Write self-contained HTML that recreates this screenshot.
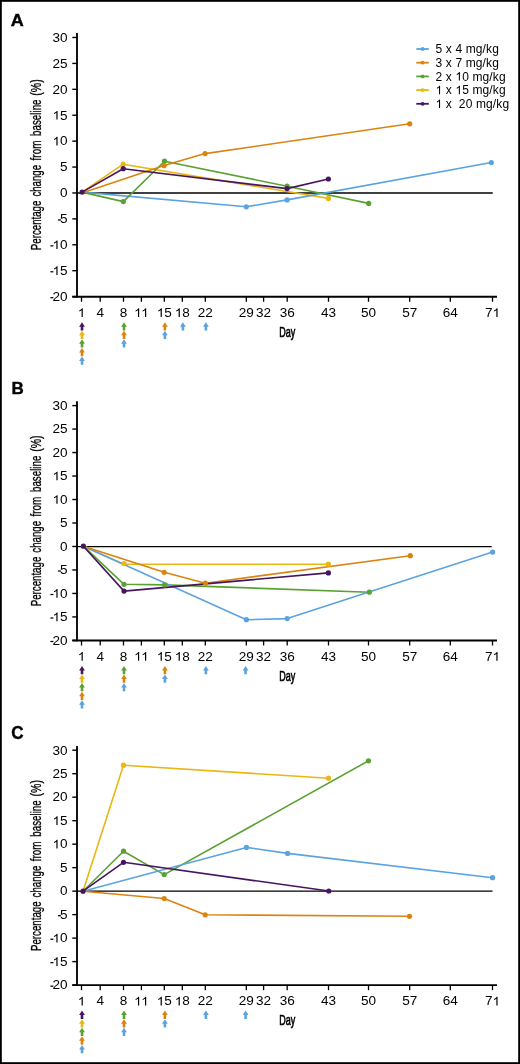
<!DOCTYPE html>
<html><head><meta charset="utf-8"><style>
html,body{margin:0;padding:0;background:#fff;}
body{width:520px;height:1064px;overflow:hidden;font-family:"Liberation Sans",sans-serif;}
svg{display:block;will-change:transform;}
svg text{font-family:"Liberation Sans",sans-serif;fill:#000;}
</style></head><body>
<svg width="520" height="1064" viewBox="0 0 520 1064">
<rect x="0" y="0" width="520" height="1064" fill="#fff"/>
<text transform="translate(10.8,25.8) scale(1.06,1)" font-weight="bold" font-size="17" stroke="#000" stroke-width="0.4">A</text>
<line x1="77.0" y1="33" x2="77.0" y2="297.55" stroke="#000" stroke-width="1.85"/>
<line x1="72.3" y1="37.50" x2="77.0" y2="37.50" stroke="#000" stroke-width="1.4"/>
<g transform="translate(67.600,41.800) scale(1.13,1)"><text x="-13.348 -6.674" y="0" font-size="12">30</text></g>
<line x1="72.3" y1="63.41" x2="77.0" y2="63.41" stroke="#000" stroke-width="1.4"/>
<g transform="translate(67.600,67.710) scale(1.13,1)"><text x="-13.348 -6.674" y="0" font-size="12">25</text></g>
<line x1="72.3" y1="89.32" x2="77.0" y2="89.32" stroke="#000" stroke-width="1.4"/>
<g transform="translate(67.600,93.620) scale(1.13,1)"><text x="-13.348 -6.674" y="0" font-size="12">20</text></g>
<line x1="72.3" y1="115.23" x2="77.0" y2="115.23" stroke="#000" stroke-width="1.4"/>
<g transform="translate(67.600,119.530) scale(1.13,1)"><text x="-6.674" y="0" font-size="12">5</text><path transform="translate(-13.348,0) scale(0.005859,-0.005859)" d="M763 0L583 0L583 1147Q518 1085 412 1023Q306 961 222 930L222 1104Q373 1175 486 1276Q599 1377 646 1472L763 1472Z"/></g>
<line x1="72.3" y1="141.14" x2="77.0" y2="141.14" stroke="#000" stroke-width="1.4"/>
<g transform="translate(67.600,145.440) scale(1.13,1)"><text x="-6.674" y="0" font-size="12">0</text><path transform="translate(-13.348,0) scale(0.005859,-0.005859)" d="M763 0L583 0L583 1147Q518 1085 412 1023Q306 961 222 930L222 1104Q373 1175 486 1276Q599 1377 646 1472L763 1472Z"/></g>
<line x1="72.3" y1="167.05" x2="77.0" y2="167.05" stroke="#000" stroke-width="1.4"/>
<g transform="translate(67.600,171.350) scale(1.13,1)"><text x="-6.674" y="0" font-size="12">5</text></g>
<line x1="72.3" y1="192.96" x2="77.0" y2="192.96" stroke="#000" stroke-width="1.4"/>
<g transform="translate(67.600,197.260) scale(1.13,1)"><text x="-6.674" y="0" font-size="12">0</text></g>
<line x1="72.3" y1="218.87" x2="77.0" y2="218.87" stroke="#000" stroke-width="1.4"/>
<g transform="translate(67.600,223.170) scale(1.13,1)"><text x="-6.674" y="0" font-size="12">5</text><path transform="translate(-10.670,0) scale(0.005859,-0.005859)" d="M362 444H815V656H362Z"/></g>
<line x1="72.3" y1="244.78" x2="77.0" y2="244.78" stroke="#000" stroke-width="1.4"/>
<g transform="translate(67.600,249.080) scale(1.13,1)"><text x="-6.674" y="0" font-size="12">0</text><path transform="translate(-17.344,0) scale(0.005859,-0.005859)" d="M362 444H815V656H362Z"/><path transform="translate(-13.348,0) scale(0.005859,-0.005859)" d="M763 0L583 0L583 1147Q518 1085 412 1023Q306 961 222 930L222 1104Q373 1175 486 1276Q599 1377 646 1472L763 1472Z"/></g>
<line x1="72.3" y1="270.69" x2="77.0" y2="270.69" stroke="#000" stroke-width="1.4"/>
<g transform="translate(67.600,274.990) scale(1.13,1)"><text x="-6.674" y="0" font-size="12">5</text><path transform="translate(-17.344,0) scale(0.005859,-0.005859)" d="M362 444H815V656H362Z"/><path transform="translate(-13.348,0) scale(0.005859,-0.005859)" d="M763 0L583 0L583 1147Q518 1085 412 1023Q306 961 222 930L222 1104Q373 1175 486 1276Q599 1377 646 1472L763 1472Z"/></g>
<line x1="72.3" y1="296.60" x2="77.0" y2="296.60" stroke="#000" stroke-width="1.4"/>
<g transform="translate(67.600,300.900) scale(1.13,1)"><text x="-13.348 -6.674" y="0" font-size="12">20</text><path transform="translate(-17.344,0) scale(0.005859,-0.005859)" d="M362 444H815V656H362Z"/></g>
<line x1="72.3" y1="296.75" x2="497.0" y2="296.75" stroke="#000" stroke-width="1.8"/>
<line x1="81.5" y1="296.75" x2="81.5" y2="301.75" stroke="#000" stroke-width="1.3"/>
<g transform="translate(81.500,316.950) scale(1.13,1)"><path transform="translate(-3.337,0) scale(0.005859,-0.005859)" d="M763 0L583 0L583 1147Q518 1085 412 1023Q306 961 222 930L222 1104Q373 1175 486 1276Q599 1377 646 1472L763 1472Z"/></g>
<line x1="100.2" y1="296.75" x2="100.2" y2="301.75" stroke="#000" stroke-width="1.3"/>
<g transform="translate(100.200,316.950) scale(1.13,1)"><text x="-3.337" y="0" font-size="12">4</text></g>
<line x1="123.5" y1="296.75" x2="123.5" y2="301.75" stroke="#000" stroke-width="1.3"/>
<g transform="translate(123.500,316.950) scale(1.13,1)"><text x="-3.337" y="0" font-size="12">8</text></g>
<line x1="141.4" y1="296.75" x2="141.4" y2="301.75" stroke="#000" stroke-width="1.3"/>
<g transform="translate(141.400,316.950) scale(1.13,1)"><path transform="translate(-6.451,0) scale(0.005859,-0.005859)" d="M763 0L583 0L583 1147Q518 1085 412 1023Q306 961 222 930L222 1104Q373 1175 486 1276Q599 1377 646 1472L763 1472Z"/><path transform="translate(-0.223,0) scale(0.005859,-0.005859)" d="M763 0L583 0L583 1147Q518 1085 412 1023Q306 961 222 930L222 1104Q373 1175 486 1276Q599 1377 646 1472L763 1472Z"/></g>
<line x1="164.3" y1="296.75" x2="164.3" y2="301.75" stroke="#000" stroke-width="1.3"/>
<g transform="translate(164.300,316.950) scale(1.13,1)"><text x="0.000" y="0" font-size="12">5</text><path transform="translate(-6.674,0) scale(0.005859,-0.005859)" d="M763 0L583 0L583 1147Q518 1085 412 1023Q306 961 222 930L222 1104Q373 1175 486 1276Q599 1377 646 1472L763 1472Z"/></g>
<line x1="182.3" y1="296.75" x2="182.3" y2="301.75" stroke="#000" stroke-width="1.3"/>
<g transform="translate(182.300,316.950) scale(1.13,1)"><text x="0.000" y="0" font-size="12">8</text><path transform="translate(-6.674,0) scale(0.005859,-0.005859)" d="M763 0L583 0L583 1147Q518 1085 412 1023Q306 961 222 930L222 1104Q373 1175 486 1276Q599 1377 646 1472L763 1472Z"/></g>
<line x1="205.3" y1="296.75" x2="205.3" y2="301.75" stroke="#000" stroke-width="1.3"/>
<g transform="translate(205.300,316.950) scale(1.13,1)"><text x="-6.674 0.000" y="0" font-size="12">22</text></g>
<line x1="246.3" y1="296.75" x2="246.3" y2="301.75" stroke="#000" stroke-width="1.3"/>
<g transform="translate(246.300,316.950) scale(1.13,1)"><text x="-6.674 0.000" y="0" font-size="12">29</text></g>
<line x1="263.6" y1="296.75" x2="263.6" y2="301.75" stroke="#000" stroke-width="1.3"/>
<g transform="translate(263.600,316.950) scale(1.13,1)"><text x="-6.674 0.000" y="0" font-size="12">32</text></g>
<line x1="287.2" y1="296.75" x2="287.2" y2="301.75" stroke="#000" stroke-width="1.3"/>
<g transform="translate(287.200,316.950) scale(1.13,1)"><text x="-6.674 0.000" y="0" font-size="12">36</text></g>
<line x1="328.5" y1="296.75" x2="328.5" y2="301.75" stroke="#000" stroke-width="1.3"/>
<g transform="translate(328.500,316.950) scale(1.13,1)"><text x="-6.674 0.000" y="0" font-size="12">43</text></g>
<line x1="368.5" y1="296.75" x2="368.5" y2="301.75" stroke="#000" stroke-width="1.3"/>
<g transform="translate(368.500,316.950) scale(1.13,1)"><text x="-6.674 0.000" y="0" font-size="12">50</text></g>
<line x1="409.7" y1="296.75" x2="409.7" y2="301.75" stroke="#000" stroke-width="1.3"/>
<g transform="translate(409.700,316.950) scale(1.13,1)"><text x="-6.674 0.000" y="0" font-size="12">57</text></g>
<line x1="450.3" y1="296.75" x2="450.3" y2="301.75" stroke="#000" stroke-width="1.3"/>
<g transform="translate(450.300,316.950) scale(1.13,1)"><text x="-6.674 0.000" y="0" font-size="12">64</text></g>
<line x1="492.5" y1="296.75" x2="492.5" y2="301.75" stroke="#000" stroke-width="1.3"/>
<g transform="translate(492.500,316.950) scale(1.13,1)"><text x="-6.674" y="0" font-size="12">7</text><path transform="translate(0.000,0) scale(0.005859,-0.005859)" d="M763 0L583 0L583 1147Q518 1085 412 1023Q306 961 222 930L222 1104Q373 1175 486 1276Q599 1377 646 1472L763 1472Z"/></g>
<text x="279.2" y="336.95" font-family="Liberation Sans" font-size="14" stroke="#000" stroke-width="0.65" textLength="16" lengthAdjust="spacingAndGlyphs">Day</text>
<text transform="translate(40.7,250.20) rotate(-90)" font-size="14.2" stroke="#000" stroke-width="0.3" textLength="49.60" lengthAdjust="spacingAndGlyphs">Percentage</text>
<text transform="translate(40.7,196.60) rotate(-90)" font-size="14.2" stroke="#000" stroke-width="0.3" textLength="31.70" lengthAdjust="spacingAndGlyphs">change</text>
<text transform="translate(40.7,160.40) rotate(-90)" font-size="14.2" stroke="#000" stroke-width="0.3" textLength="19.80" lengthAdjust="spacingAndGlyphs">from</text>
<text transform="translate(40.7,135.90) rotate(-90)" font-size="14.2" stroke="#000" stroke-width="0.3" textLength="36.40" lengthAdjust="spacingAndGlyphs">baseline</text>
<text transform="translate(40.7,95.70) rotate(-90)" font-size="14.2" stroke="#000" stroke-width="0.3" textLength="16.40" lengthAdjust="spacingAndGlyphs">(%)</text>
<line x1="77.0" y1="193" x2="492.7" y2="193" stroke="#000" stroke-width="1.35"/>
<polyline points="82.1,192.1 246.3,206.8 287.1,199.9" fill="none" stroke="#5ba3e0" stroke-width="1.6" stroke-linejoin="round"/>
<polyline points="82.1,192.1 123.2,164.2 328.4,198.4" fill="none" stroke="#e9b612" stroke-width="1.6" stroke-linejoin="round"/>
<polyline points="82.1,192.1 123.3,201.6 164.5,161.2 287.1,186.2 368.7,203.4" fill="none" stroke="#5aa132" stroke-width="1.6" stroke-linejoin="round"/>
<polyline points="82.1,192.9 164.1,165.6 205.1,153.6 409.7,123.8" fill="none" stroke="#da840f" stroke-width="1.6" stroke-linejoin="round"/>
<polyline points="82.1,192.1 123.2,168.7 287.1,188.6 328.4,179.0" fill="none" stroke="#461560" stroke-width="1.6" stroke-linejoin="round"/>
<polyline points="287.1,199.9 491.3,162.5" fill="none" stroke="#5ba3e0" stroke-width="1.6" stroke-linejoin="round"/>
<circle cx="246.3" cy="206.8" r="2.6" fill="#5ba3e0"/>
<circle cx="287.1" cy="199.9" r="2.6" fill="#5ba3e0"/>
<circle cx="491.3" cy="162.5" r="2.6" fill="#5ba3e0"/>
<circle cx="123.2" cy="164.2" r="2.6" fill="#e9b612"/>
<circle cx="328.4" cy="198.4" r="2.6" fill="#e9b612"/>
<circle cx="123.3" cy="201.6" r="2.6" fill="#5aa132"/>
<circle cx="164.5" cy="161.2" r="2.6" fill="#5aa132"/>
<circle cx="287.1" cy="186.2" r="2.6" fill="#5aa132"/>
<circle cx="368.7" cy="203.4" r="2.6" fill="#5aa132"/>
<circle cx="164.1" cy="165.6" r="2.6" fill="#da840f"/>
<circle cx="205.1" cy="153.6" r="2.6" fill="#da840f"/>
<circle cx="409.7" cy="123.8" r="2.6" fill="#da840f"/>
<circle cx="82.1" cy="192.1" r="2.6" fill="#461560"/>
<circle cx="123.2" cy="168.7" r="2.6" fill="#461560"/>
<circle cx="287.1" cy="188.6" r="2.6" fill="#461560"/>
<circle cx="328.4" cy="179.0" r="2.6" fill="#461560"/>
<path d="M82.00 322.15 L84.90 326.65 L83.30 326.65 L83.30 330.45 L80.70 330.45 L80.70 326.65 L79.10 326.65 Z" fill="#461560"/>
<path d="M82.00 330.73 L84.90 335.23 L83.30 335.23 L83.30 339.03 L80.70 339.03 L80.70 335.23 L79.10 335.23 Z" fill="#e9b612"/>
<path d="M82.00 339.31 L84.90 343.81 L83.30 343.81 L83.30 347.61 L80.70 347.61 L80.70 343.81 L79.10 343.81 Z" fill="#5aa132"/>
<path d="M82.00 347.89 L84.90 352.39 L83.30 352.39 L83.30 356.19 L80.70 356.19 L80.70 352.39 L79.10 352.39 Z" fill="#da840f"/>
<path d="M82.00 356.47 L84.90 360.97 L83.30 360.97 L83.30 364.77 L80.70 364.77 L80.70 360.97 L79.10 360.97 Z" fill="#5ba3e0"/>
<path d="M124.00 322.15 L126.90 326.65 L125.30 326.65 L125.30 330.45 L122.70 330.45 L122.70 326.65 L121.10 326.65 Z" fill="#5aa132"/>
<path d="M124.00 330.73 L126.90 335.23 L125.30 335.23 L125.30 339.03 L122.70 339.03 L122.70 335.23 L121.10 335.23 Z" fill="#da840f"/>
<path d="M124.00 339.31 L126.90 343.81 L125.30 343.81 L125.30 347.61 L122.70 347.61 L122.70 343.81 L121.10 343.81 Z" fill="#5ba3e0"/>
<path d="M164.90 322.15 L167.80 326.65 L166.20 326.65 L166.20 330.45 L163.60 330.45 L163.60 326.65 L162.00 326.65 Z" fill="#da840f"/>
<path d="M164.90 330.73 L167.80 335.23 L166.20 335.23 L166.20 339.03 L163.60 339.03 L163.60 335.23 L162.00 335.23 Z" fill="#5ba3e0"/>
<path d="M182.90 322.15 L185.80 326.65 L184.20 326.65 L184.20 330.45 L181.60 330.45 L181.60 326.65 L180.00 326.65 Z" fill="#5ba3e0"/>
<path d="M205.90 322.15 L208.80 326.65 L207.20 326.65 L207.20 330.45 L204.60 330.45 L204.60 326.65 L203.00 326.65 Z" fill="#5ba3e0"/>
<line x1="416.3" y1="49.00" x2="428.8" y2="49.00" stroke="#5ba3e0" stroke-width="1.8"/>
<circle cx="422.6" cy="49.00" r="1.9" fill="#5ba3e0"/>
<g transform="translate(435.600,53.200) scale(1.0,1)"><text x="0.000 10.248 19.822 30.070 40.186 46.980 50.434 56.554" y="0" font-size="12">5x4mg/kg</text></g>
<line x1="416.3" y1="62.70" x2="428.8" y2="62.70" stroke="#da840f" stroke-width="1.8"/>
<circle cx="422.6" cy="62.70" r="1.9" fill="#da840f"/>
<g transform="translate(435.600,66.900) scale(1.0,1)"><text x="0.000 10.248 19.822 30.070 40.186 46.980 50.434 56.554" y="0" font-size="12">3x7mg/kg</text></g>
<line x1="416.3" y1="76.40" x2="428.8" y2="76.40" stroke="#5aa132" stroke-width="1.8"/>
<circle cx="422.6" cy="76.40" r="1.9" fill="#5aa132"/>
<g transform="translate(435.600,80.600) scale(1.0,1)"><text x="0.000 10.248 26.616 36.863 46.980 53.773 57.227 63.347" y="0" font-size="12">2x0mg/kg</text><path transform="translate(19.822,0) scale(0.005859,-0.005859)" d="M763 0L583 0L583 1147Q518 1085 412 1023Q306 961 222 930L222 1104Q373 1175 486 1276Q599 1377 646 1472L763 1472Z"/></g>
<line x1="416.3" y1="90.10" x2="428.8" y2="90.10" stroke="#e9b612" stroke-width="1.8"/>
<circle cx="422.6" cy="90.10" r="1.9" fill="#e9b612"/>
<g transform="translate(435.600,94.300) scale(1.0,1)"><text x="10.248 26.616 36.863 46.980 53.773 57.227 63.347" y="0" font-size="12">x5mg/kg</text><path transform="translate(0.000,0) scale(0.005859,-0.005859)" d="M763 0L583 0L583 1147Q518 1085 412 1023Q306 961 222 930L222 1104Q373 1175 486 1276Q599 1377 646 1472L763 1472Z"/><path transform="translate(19.822,0) scale(0.005859,-0.005859)" d="M763 0L583 0L583 1147Q518 1085 412 1023Q306 961 222 930L222 1104Q373 1175 486 1276Q599 1377 646 1472L763 1472Z"/></g>
<line x1="416.3" y1="103.80" x2="428.8" y2="103.80" stroke="#461560" stroke-width="1.8"/>
<circle cx="422.6" cy="103.80" r="1.9" fill="#461560"/>
<g transform="translate(435.600,108.000) scale(1.0,1)"><text x="10.248 23.276 30.070 40.317 50.434 57.227 60.681 66.801" y="0" font-size="12">x20mg/kg</text><path transform="translate(0.000,0) scale(0.005859,-0.005859)" d="M763 0L583 0L583 1147Q518 1085 412 1023Q306 961 222 930L222 1104Q373 1175 486 1276Q599 1377 646 1472L763 1472Z"/></g>
<text transform="translate(11.5,394.3) scale(1.0,1)" font-weight="bold" font-size="17" stroke="#000" stroke-width="0.4">B</text>
<line x1="77.0" y1="401.2" x2="77.0" y2="641.3" stroke="#000" stroke-width="1.85"/>
<line x1="72.3" y1="405.60" x2="77.0" y2="405.60" stroke="#000" stroke-width="1.4"/>
<g transform="translate(67.600,409.900) scale(1.13,1)"><text x="-13.348 -6.674" y="0" font-size="12">30</text></g>
<line x1="72.3" y1="429.08" x2="77.0" y2="429.08" stroke="#000" stroke-width="1.4"/>
<g transform="translate(67.600,433.380) scale(1.13,1)"><text x="-13.348 -6.674" y="0" font-size="12">25</text></g>
<line x1="72.3" y1="452.56" x2="77.0" y2="452.56" stroke="#000" stroke-width="1.4"/>
<g transform="translate(67.600,456.860) scale(1.13,1)"><text x="-13.348 -6.674" y="0" font-size="12">20</text></g>
<line x1="72.3" y1="476.04" x2="77.0" y2="476.04" stroke="#000" stroke-width="1.4"/>
<g transform="translate(67.600,480.340) scale(1.13,1)"><text x="-6.674" y="0" font-size="12">5</text><path transform="translate(-13.348,0) scale(0.005859,-0.005859)" d="M763 0L583 0L583 1147Q518 1085 412 1023Q306 961 222 930L222 1104Q373 1175 486 1276Q599 1377 646 1472L763 1472Z"/></g>
<line x1="72.3" y1="499.52" x2="77.0" y2="499.52" stroke="#000" stroke-width="1.4"/>
<g transform="translate(67.600,503.820) scale(1.13,1)"><text x="-6.674" y="0" font-size="12">0</text><path transform="translate(-13.348,0) scale(0.005859,-0.005859)" d="M763 0L583 0L583 1147Q518 1085 412 1023Q306 961 222 930L222 1104Q373 1175 486 1276Q599 1377 646 1472L763 1472Z"/></g>
<line x1="72.3" y1="523.00" x2="77.0" y2="523.00" stroke="#000" stroke-width="1.4"/>
<g transform="translate(67.600,527.300) scale(1.13,1)"><text x="-6.674" y="0" font-size="12">5</text></g>
<line x1="72.3" y1="546.48" x2="77.0" y2="546.48" stroke="#000" stroke-width="1.4"/>
<g transform="translate(67.600,550.780) scale(1.13,1)"><text x="-6.674" y="0" font-size="12">0</text></g>
<line x1="72.3" y1="569.96" x2="77.0" y2="569.96" stroke="#000" stroke-width="1.4"/>
<g transform="translate(67.600,574.260) scale(1.13,1)"><text x="-6.674" y="0" font-size="12">5</text><path transform="translate(-10.670,0) scale(0.005859,-0.005859)" d="M362 444H815V656H362Z"/></g>
<line x1="72.3" y1="593.44" x2="77.0" y2="593.44" stroke="#000" stroke-width="1.4"/>
<g transform="translate(67.600,597.740) scale(1.13,1)"><text x="-6.674" y="0" font-size="12">0</text><path transform="translate(-17.344,0) scale(0.005859,-0.005859)" d="M362 444H815V656H362Z"/><path transform="translate(-13.348,0) scale(0.005859,-0.005859)" d="M763 0L583 0L583 1147Q518 1085 412 1023Q306 961 222 930L222 1104Q373 1175 486 1276Q599 1377 646 1472L763 1472Z"/></g>
<line x1="72.3" y1="616.92" x2="77.0" y2="616.92" stroke="#000" stroke-width="1.4"/>
<g transform="translate(67.600,621.220) scale(1.13,1)"><text x="-6.674" y="0" font-size="12">5</text><path transform="translate(-17.344,0) scale(0.005859,-0.005859)" d="M362 444H815V656H362Z"/><path transform="translate(-13.348,0) scale(0.005859,-0.005859)" d="M763 0L583 0L583 1147Q518 1085 412 1023Q306 961 222 930L222 1104Q373 1175 486 1276Q599 1377 646 1472L763 1472Z"/></g>
<line x1="72.3" y1="640.40" x2="77.0" y2="640.40" stroke="#000" stroke-width="1.4"/>
<g transform="translate(67.600,644.700) scale(1.13,1)"><text x="-13.348 -6.674" y="0" font-size="12">20</text><path transform="translate(-17.344,0) scale(0.005859,-0.005859)" d="M362 444H815V656H362Z"/></g>
<line x1="72.3" y1="640.5" x2="497.0" y2="640.5" stroke="#000" stroke-width="1.8"/>
<line x1="81.5" y1="640.5" x2="81.5" y2="645.50" stroke="#000" stroke-width="1.3"/>
<g transform="translate(81.500,660.700) scale(1.13,1)"><path transform="translate(-3.337,0) scale(0.005859,-0.005859)" d="M763 0L583 0L583 1147Q518 1085 412 1023Q306 961 222 930L222 1104Q373 1175 486 1276Q599 1377 646 1472L763 1472Z"/></g>
<line x1="100.2" y1="640.5" x2="100.2" y2="645.50" stroke="#000" stroke-width="1.3"/>
<g transform="translate(100.200,660.700) scale(1.13,1)"><text x="-3.337" y="0" font-size="12">4</text></g>
<line x1="123.5" y1="640.5" x2="123.5" y2="645.50" stroke="#000" stroke-width="1.3"/>
<g transform="translate(123.500,660.700) scale(1.13,1)"><text x="-3.337" y="0" font-size="12">8</text></g>
<line x1="141.4" y1="640.5" x2="141.4" y2="645.50" stroke="#000" stroke-width="1.3"/>
<g transform="translate(141.400,660.700) scale(1.13,1)"><path transform="translate(-6.451,0) scale(0.005859,-0.005859)" d="M763 0L583 0L583 1147Q518 1085 412 1023Q306 961 222 930L222 1104Q373 1175 486 1276Q599 1377 646 1472L763 1472Z"/><path transform="translate(-0.223,0) scale(0.005859,-0.005859)" d="M763 0L583 0L583 1147Q518 1085 412 1023Q306 961 222 930L222 1104Q373 1175 486 1276Q599 1377 646 1472L763 1472Z"/></g>
<line x1="164.3" y1="640.5" x2="164.3" y2="645.50" stroke="#000" stroke-width="1.3"/>
<g transform="translate(164.300,660.700) scale(1.13,1)"><text x="0.000" y="0" font-size="12">5</text><path transform="translate(-6.674,0) scale(0.005859,-0.005859)" d="M763 0L583 0L583 1147Q518 1085 412 1023Q306 961 222 930L222 1104Q373 1175 486 1276Q599 1377 646 1472L763 1472Z"/></g>
<line x1="182.3" y1="640.5" x2="182.3" y2="645.50" stroke="#000" stroke-width="1.3"/>
<g transform="translate(182.300,660.700) scale(1.13,1)"><text x="0.000" y="0" font-size="12">8</text><path transform="translate(-6.674,0) scale(0.005859,-0.005859)" d="M763 0L583 0L583 1147Q518 1085 412 1023Q306 961 222 930L222 1104Q373 1175 486 1276Q599 1377 646 1472L763 1472Z"/></g>
<line x1="205.3" y1="640.5" x2="205.3" y2="645.50" stroke="#000" stroke-width="1.3"/>
<g transform="translate(205.300,660.700) scale(1.13,1)"><text x="-6.674 0.000" y="0" font-size="12">22</text></g>
<line x1="246.3" y1="640.5" x2="246.3" y2="645.50" stroke="#000" stroke-width="1.3"/>
<g transform="translate(246.300,660.700) scale(1.13,1)"><text x="-6.674 0.000" y="0" font-size="12">29</text></g>
<line x1="263.6" y1="640.5" x2="263.6" y2="645.50" stroke="#000" stroke-width="1.3"/>
<g transform="translate(263.600,660.700) scale(1.13,1)"><text x="-6.674 0.000" y="0" font-size="12">32</text></g>
<line x1="287.2" y1="640.5" x2="287.2" y2="645.50" stroke="#000" stroke-width="1.3"/>
<g transform="translate(287.200,660.700) scale(1.13,1)"><text x="-6.674 0.000" y="0" font-size="12">36</text></g>
<line x1="328.5" y1="640.5" x2="328.5" y2="645.50" stroke="#000" stroke-width="1.3"/>
<g transform="translate(328.500,660.700) scale(1.13,1)"><text x="-6.674 0.000" y="0" font-size="12">43</text></g>
<line x1="368.5" y1="640.5" x2="368.5" y2="645.50" stroke="#000" stroke-width="1.3"/>
<g transform="translate(368.500,660.700) scale(1.13,1)"><text x="-6.674 0.000" y="0" font-size="12">50</text></g>
<line x1="409.7" y1="640.5" x2="409.7" y2="645.50" stroke="#000" stroke-width="1.3"/>
<g transform="translate(409.700,660.700) scale(1.13,1)"><text x="-6.674 0.000" y="0" font-size="12">57</text></g>
<line x1="450.3" y1="640.5" x2="450.3" y2="645.50" stroke="#000" stroke-width="1.3"/>
<g transform="translate(450.300,660.700) scale(1.13,1)"><text x="-6.674 0.000" y="0" font-size="12">64</text></g>
<line x1="492.5" y1="640.5" x2="492.5" y2="645.50" stroke="#000" stroke-width="1.3"/>
<g transform="translate(492.500,660.700) scale(1.13,1)"><text x="-6.674" y="0" font-size="12">7</text><path transform="translate(0.000,0) scale(0.005859,-0.005859)" d="M763 0L583 0L583 1147Q518 1085 412 1023Q306 961 222 930L222 1104Q373 1175 486 1276Q599 1377 646 1472L763 1472Z"/></g>
<text x="279.2" y="680.70" font-family="Liberation Sans" font-size="14" stroke="#000" stroke-width="0.65" textLength="16" lengthAdjust="spacingAndGlyphs">Day</text>
<text transform="translate(40.7,606.30) rotate(-90)" font-size="14.2" stroke="#000" stroke-width="0.3" textLength="49.60" lengthAdjust="spacingAndGlyphs">Percentage</text>
<text transform="translate(40.7,552.70) rotate(-90)" font-size="14.2" stroke="#000" stroke-width="0.3" textLength="31.70" lengthAdjust="spacingAndGlyphs">change</text>
<text transform="translate(40.7,516.50) rotate(-90)" font-size="14.2" stroke="#000" stroke-width="0.3" textLength="19.80" lengthAdjust="spacingAndGlyphs">from</text>
<text transform="translate(40.7,492.00) rotate(-90)" font-size="14.2" stroke="#000" stroke-width="0.3" textLength="36.40" lengthAdjust="spacingAndGlyphs">baseline</text>
<text transform="translate(40.7,451.80) rotate(-90)" font-size="14.2" stroke="#000" stroke-width="0.3" textLength="16.40" lengthAdjust="spacingAndGlyphs">(%)</text>
<line x1="77.0" y1="546.6" x2="491.7" y2="546.6" stroke="#000" stroke-width="1.35"/>
<polyline points="83.4,546.2 124.0,564.2 328.4,564.2" fill="none" stroke="#e9b612" stroke-width="1.6" stroke-linejoin="round"/>
<polyline points="83.4,546.2 124.0,584.3 164.6,584.9 369.3,592.2" fill="none" stroke="#5aa132" stroke-width="1.6" stroke-linejoin="round"/>
<polyline points="83.4,546.2 246.4,619.7 287.2,618.6 492.6,552.1" fill="none" stroke="#5ba3e0" stroke-width="1.6" stroke-linejoin="round"/>
<polyline points="83.4,546.2 164.2,572.3 205.4,583.2 410.3,555.7" fill="none" stroke="#da840f" stroke-width="1.6" stroke-linejoin="round"/>
<polyline points="83.4,546.2 124.0,591.1 328.4,572.9" fill="none" stroke="#461560" stroke-width="1.6" stroke-linejoin="round"/>
<circle cx="124.0" cy="563.6" r="2.6" fill="#e9b612"/>
<circle cx="328.4" cy="564.2" r="2.6" fill="#e9b612"/>
<circle cx="124.0" cy="584.3" r="2.6" fill="#5aa132"/>
<circle cx="164.6" cy="584.9" r="2.6" fill="#5aa132"/>
<circle cx="369.3" cy="592.2" r="2.6" fill="#5aa132"/>
<circle cx="246.4" cy="619.7" r="2.6" fill="#5ba3e0"/>
<circle cx="287.2" cy="618.6" r="2.6" fill="#5ba3e0"/>
<circle cx="492.6" cy="552.1" r="2.6" fill="#5ba3e0"/>
<circle cx="164.2" cy="572.3" r="2.6" fill="#da840f"/>
<circle cx="205.4" cy="583.2" r="2.6" fill="#da840f"/>
<circle cx="410.3" cy="555.7" r="2.6" fill="#da840f"/>
<circle cx="83.4" cy="546.2" r="2.6" fill="#461560"/>
<circle cx="124.0" cy="591.1" r="2.6" fill="#461560"/>
<circle cx="328.4" cy="572.9" r="2.6" fill="#461560"/>
<path d="M82.00 665.90 L84.90 670.40 L83.30 670.40 L83.30 674.20 L80.70 674.20 L80.70 670.40 L79.10 670.40 Z" fill="#461560"/>
<path d="M82.00 674.48 L84.90 678.98 L83.30 678.98 L83.30 682.78 L80.70 682.78 L80.70 678.98 L79.10 678.98 Z" fill="#e9b612"/>
<path d="M82.00 683.06 L84.90 687.56 L83.30 687.56 L83.30 691.36 L80.70 691.36 L80.70 687.56 L79.10 687.56 Z" fill="#5aa132"/>
<path d="M82.00 691.64 L84.90 696.14 L83.30 696.14 L83.30 699.94 L80.70 699.94 L80.70 696.14 L79.10 696.14 Z" fill="#da840f"/>
<path d="M82.00 700.22 L84.90 704.72 L83.30 704.72 L83.30 708.52 L80.70 708.52 L80.70 704.72 L79.10 704.72 Z" fill="#5ba3e0"/>
<path d="M124.00 665.90 L126.90 670.40 L125.30 670.40 L125.30 674.20 L122.70 674.20 L122.70 670.40 L121.10 670.40 Z" fill="#5aa132"/>
<path d="M124.00 674.48 L126.90 678.98 L125.30 678.98 L125.30 682.78 L122.70 682.78 L122.70 678.98 L121.10 678.98 Z" fill="#da840f"/>
<path d="M124.00 683.06 L126.90 687.56 L125.30 687.56 L125.30 691.36 L122.70 691.36 L122.70 687.56 L121.10 687.56 Z" fill="#5ba3e0"/>
<path d="M164.90 665.90 L167.80 670.40 L166.20 670.40 L166.20 674.20 L163.60 674.20 L163.60 670.40 L162.00 670.40 Z" fill="#da840f"/>
<path d="M164.90 674.48 L167.80 678.98 L166.20 678.98 L166.20 682.78 L163.60 682.78 L163.60 678.98 L162.00 678.98 Z" fill="#5ba3e0"/>
<path d="M205.90 665.90 L208.80 670.40 L207.20 670.40 L207.20 674.20 L204.60 674.20 L204.60 670.40 L203.00 670.40 Z" fill="#5ba3e0"/>
<path d="M245.60 665.90 L248.50 670.40 L246.90 670.40 L246.90 674.20 L244.30 674.20 L244.30 670.40 L242.70 670.40 Z" fill="#5ba3e0"/>
<text transform="translate(11.3,738.9) scale(0.96,1)" font-weight="bold" font-size="17.8" stroke="#000" stroke-width="0.4">C</text>
<line x1="77.0" y1="746" x2="77.0" y2="986.0" stroke="#000" stroke-width="1.85"/>
<line x1="72.3" y1="750.20" x2="77.0" y2="750.20" stroke="#000" stroke-width="1.4"/>
<g transform="translate(67.600,754.500) scale(1.13,1)"><text x="-13.348 -6.674" y="0" font-size="12">30</text></g>
<line x1="72.3" y1="773.69" x2="77.0" y2="773.69" stroke="#000" stroke-width="1.4"/>
<g transform="translate(67.600,777.990) scale(1.13,1)"><text x="-13.348 -6.674" y="0" font-size="12">25</text></g>
<line x1="72.3" y1="797.18" x2="77.0" y2="797.18" stroke="#000" stroke-width="1.4"/>
<g transform="translate(67.600,801.480) scale(1.13,1)"><text x="-13.348 -6.674" y="0" font-size="12">20</text></g>
<line x1="72.3" y1="820.67" x2="77.0" y2="820.67" stroke="#000" stroke-width="1.4"/>
<g transform="translate(67.600,824.970) scale(1.13,1)"><text x="-6.674" y="0" font-size="12">5</text><path transform="translate(-13.348,0) scale(0.005859,-0.005859)" d="M763 0L583 0L583 1147Q518 1085 412 1023Q306 961 222 930L222 1104Q373 1175 486 1276Q599 1377 646 1472L763 1472Z"/></g>
<line x1="72.3" y1="844.16" x2="77.0" y2="844.16" stroke="#000" stroke-width="1.4"/>
<g transform="translate(67.600,848.460) scale(1.13,1)"><text x="-6.674" y="0" font-size="12">0</text><path transform="translate(-13.348,0) scale(0.005859,-0.005859)" d="M763 0L583 0L583 1147Q518 1085 412 1023Q306 961 222 930L222 1104Q373 1175 486 1276Q599 1377 646 1472L763 1472Z"/></g>
<line x1="72.3" y1="867.65" x2="77.0" y2="867.65" stroke="#000" stroke-width="1.4"/>
<g transform="translate(67.600,871.950) scale(1.13,1)"><text x="-6.674" y="0" font-size="12">5</text></g>
<line x1="72.3" y1="891.14" x2="77.0" y2="891.14" stroke="#000" stroke-width="1.4"/>
<g transform="translate(67.600,895.440) scale(1.13,1)"><text x="-6.674" y="0" font-size="12">0</text></g>
<line x1="72.3" y1="914.63" x2="77.0" y2="914.63" stroke="#000" stroke-width="1.4"/>
<g transform="translate(67.600,918.930) scale(1.13,1)"><text x="-6.674" y="0" font-size="12">5</text><path transform="translate(-10.670,0) scale(0.005859,-0.005859)" d="M362 444H815V656H362Z"/></g>
<line x1="72.3" y1="938.12" x2="77.0" y2="938.12" stroke="#000" stroke-width="1.4"/>
<g transform="translate(67.600,942.420) scale(1.13,1)"><text x="-6.674" y="0" font-size="12">0</text><path transform="translate(-17.344,0) scale(0.005859,-0.005859)" d="M362 444H815V656H362Z"/><path transform="translate(-13.348,0) scale(0.005859,-0.005859)" d="M763 0L583 0L583 1147Q518 1085 412 1023Q306 961 222 930L222 1104Q373 1175 486 1276Q599 1377 646 1472L763 1472Z"/></g>
<line x1="72.3" y1="961.61" x2="77.0" y2="961.61" stroke="#000" stroke-width="1.4"/>
<g transform="translate(67.600,965.910) scale(1.13,1)"><text x="-6.674" y="0" font-size="12">5</text><path transform="translate(-17.344,0) scale(0.005859,-0.005859)" d="M362 444H815V656H362Z"/><path transform="translate(-13.348,0) scale(0.005859,-0.005859)" d="M763 0L583 0L583 1147Q518 1085 412 1023Q306 961 222 930L222 1104Q373 1175 486 1276Q599 1377 646 1472L763 1472Z"/></g>
<line x1="72.3" y1="985.10" x2="77.0" y2="985.10" stroke="#000" stroke-width="1.4"/>
<g transform="translate(67.600,989.400) scale(1.13,1)"><text x="-13.348 -6.674" y="0" font-size="12">20</text><path transform="translate(-17.344,0) scale(0.005859,-0.005859)" d="M362 444H815V656H362Z"/></g>
<line x1="72.3" y1="985.2" x2="497.0" y2="985.2" stroke="#000" stroke-width="1.8"/>
<line x1="81.5" y1="985.2" x2="81.5" y2="990.20" stroke="#000" stroke-width="1.3"/>
<g transform="translate(81.500,1005.400) scale(1.13,1)"><path transform="translate(-3.337,0) scale(0.005859,-0.005859)" d="M763 0L583 0L583 1147Q518 1085 412 1023Q306 961 222 930L222 1104Q373 1175 486 1276Q599 1377 646 1472L763 1472Z"/></g>
<line x1="100.2" y1="985.2" x2="100.2" y2="990.20" stroke="#000" stroke-width="1.3"/>
<g transform="translate(100.200,1005.400) scale(1.13,1)"><text x="-3.337" y="0" font-size="12">4</text></g>
<line x1="123.5" y1="985.2" x2="123.5" y2="990.20" stroke="#000" stroke-width="1.3"/>
<g transform="translate(123.500,1005.400) scale(1.13,1)"><text x="-3.337" y="0" font-size="12">8</text></g>
<line x1="141.4" y1="985.2" x2="141.4" y2="990.20" stroke="#000" stroke-width="1.3"/>
<g transform="translate(141.400,1005.400) scale(1.13,1)"><path transform="translate(-6.451,0) scale(0.005859,-0.005859)" d="M763 0L583 0L583 1147Q518 1085 412 1023Q306 961 222 930L222 1104Q373 1175 486 1276Q599 1377 646 1472L763 1472Z"/><path transform="translate(-0.223,0) scale(0.005859,-0.005859)" d="M763 0L583 0L583 1147Q518 1085 412 1023Q306 961 222 930L222 1104Q373 1175 486 1276Q599 1377 646 1472L763 1472Z"/></g>
<line x1="164.3" y1="985.2" x2="164.3" y2="990.20" stroke="#000" stroke-width="1.3"/>
<g transform="translate(164.300,1005.400) scale(1.13,1)"><text x="0.000" y="0" font-size="12">5</text><path transform="translate(-6.674,0) scale(0.005859,-0.005859)" d="M763 0L583 0L583 1147Q518 1085 412 1023Q306 961 222 930L222 1104Q373 1175 486 1276Q599 1377 646 1472L763 1472Z"/></g>
<line x1="182.3" y1="985.2" x2="182.3" y2="990.20" stroke="#000" stroke-width="1.3"/>
<g transform="translate(182.300,1005.400) scale(1.13,1)"><text x="0.000" y="0" font-size="12">8</text><path transform="translate(-6.674,0) scale(0.005859,-0.005859)" d="M763 0L583 0L583 1147Q518 1085 412 1023Q306 961 222 930L222 1104Q373 1175 486 1276Q599 1377 646 1472L763 1472Z"/></g>
<line x1="205.3" y1="985.2" x2="205.3" y2="990.20" stroke="#000" stroke-width="1.3"/>
<g transform="translate(205.300,1005.400) scale(1.13,1)"><text x="-6.674 0.000" y="0" font-size="12">22</text></g>
<line x1="246.3" y1="985.2" x2="246.3" y2="990.20" stroke="#000" stroke-width="1.3"/>
<g transform="translate(246.300,1005.400) scale(1.13,1)"><text x="-6.674 0.000" y="0" font-size="12">29</text></g>
<line x1="263.6" y1="985.2" x2="263.6" y2="990.20" stroke="#000" stroke-width="1.3"/>
<g transform="translate(263.600,1005.400) scale(1.13,1)"><text x="-6.674 0.000" y="0" font-size="12">32</text></g>
<line x1="287.2" y1="985.2" x2="287.2" y2="990.20" stroke="#000" stroke-width="1.3"/>
<g transform="translate(287.200,1005.400) scale(1.13,1)"><text x="-6.674 0.000" y="0" font-size="12">36</text></g>
<line x1="328.5" y1="985.2" x2="328.5" y2="990.20" stroke="#000" stroke-width="1.3"/>
<g transform="translate(328.500,1005.400) scale(1.13,1)"><text x="-6.674 0.000" y="0" font-size="12">43</text></g>
<line x1="368.5" y1="985.2" x2="368.5" y2="990.20" stroke="#000" stroke-width="1.3"/>
<g transform="translate(368.500,1005.400) scale(1.13,1)"><text x="-6.674 0.000" y="0" font-size="12">50</text></g>
<line x1="409.7" y1="985.2" x2="409.7" y2="990.20" stroke="#000" stroke-width="1.3"/>
<g transform="translate(409.700,1005.400) scale(1.13,1)"><text x="-6.674 0.000" y="0" font-size="12">57</text></g>
<line x1="450.3" y1="985.2" x2="450.3" y2="990.20" stroke="#000" stroke-width="1.3"/>
<g transform="translate(450.300,1005.400) scale(1.13,1)"><text x="-6.674 0.000" y="0" font-size="12">64</text></g>
<line x1="492.5" y1="985.2" x2="492.5" y2="990.20" stroke="#000" stroke-width="1.3"/>
<g transform="translate(492.500,1005.400) scale(1.13,1)"><text x="-6.674" y="0" font-size="12">7</text><path transform="translate(0.000,0) scale(0.005859,-0.005859)" d="M763 0L583 0L583 1147Q518 1085 412 1023Q306 961 222 930L222 1104Q373 1175 486 1276Q599 1377 646 1472L763 1472Z"/></g>
<text x="279.2" y="1025.40" font-family="Liberation Sans" font-size="14" stroke="#000" stroke-width="0.65" textLength="16" lengthAdjust="spacingAndGlyphs">Day</text>
<text transform="translate(40.7,951.00) rotate(-90)" font-size="14.2" stroke="#000" stroke-width="0.3" textLength="49.60" lengthAdjust="spacingAndGlyphs">Percentage</text>
<text transform="translate(40.7,897.40) rotate(-90)" font-size="14.2" stroke="#000" stroke-width="0.3" textLength="31.70" lengthAdjust="spacingAndGlyphs">change</text>
<text transform="translate(40.7,861.20) rotate(-90)" font-size="14.2" stroke="#000" stroke-width="0.3" textLength="19.80" lengthAdjust="spacingAndGlyphs">from</text>
<text transform="translate(40.7,836.70) rotate(-90)" font-size="14.2" stroke="#000" stroke-width="0.3" textLength="36.40" lengthAdjust="spacingAndGlyphs">baseline</text>
<text transform="translate(40.7,796.50) rotate(-90)" font-size="14.2" stroke="#000" stroke-width="0.3" textLength="16.40" lengthAdjust="spacingAndGlyphs">(%)</text>
<line x1="77.0" y1="891.1" x2="492.5" y2="891.1" stroke="#000" stroke-width="1.35"/>
<polyline points="83.0,891.2 123.5,765.2 328.5,778.2" fill="none" stroke="#e9b612" stroke-width="1.6" stroke-linejoin="round"/>
<polyline points="83.0,891.2 123.5,851.2 164.2,874.6 368.5,760.8" fill="none" stroke="#5aa132" stroke-width="1.6" stroke-linejoin="round"/>
<polyline points="83.0,891.2 246.4,847.4 287.6,853.4 492.5,877.7" fill="none" stroke="#5ba3e0" stroke-width="1.6" stroke-linejoin="round"/>
<polyline points="83.0,891.2 164.2,898.5 205.2,914.8 409.5,916.3" fill="none" stroke="#da840f" stroke-width="1.6" stroke-linejoin="round"/>
<polyline points="83.0,891.2 123.5,862.3 328.8,891.0" fill="none" stroke="#461560" stroke-width="1.6" stroke-linejoin="round"/>
<circle cx="123.5" cy="765.2" r="2.6" fill="#e9b612"/>
<circle cx="328.5" cy="778.2" r="2.6" fill="#e9b612"/>
<circle cx="123.5" cy="851.2" r="2.6" fill="#5aa132"/>
<circle cx="164.2" cy="874.6" r="2.6" fill="#5aa132"/>
<circle cx="368.5" cy="760.8" r="2.6" fill="#5aa132"/>
<circle cx="246.4" cy="847.4" r="2.6" fill="#5ba3e0"/>
<circle cx="287.6" cy="853.4" r="2.6" fill="#5ba3e0"/>
<circle cx="492.5" cy="877.7" r="2.6" fill="#5ba3e0"/>
<circle cx="164.2" cy="898.5" r="2.6" fill="#da840f"/>
<circle cx="205.2" cy="914.8" r="2.6" fill="#da840f"/>
<circle cx="409.5" cy="916.3" r="2.6" fill="#da840f"/>
<circle cx="83.0" cy="891.2" r="2.6" fill="#461560"/>
<circle cx="123.5" cy="862.3" r="2.6" fill="#461560"/>
<circle cx="328.8" cy="891.0" r="2.6" fill="#461560"/>
<path d="M82.00 1010.60 L84.90 1015.10 L83.30 1015.10 L83.30 1018.90 L80.70 1018.90 L80.70 1015.10 L79.10 1015.10 Z" fill="#461560"/>
<path d="M82.00 1019.18 L84.90 1023.68 L83.30 1023.68 L83.30 1027.48 L80.70 1027.48 L80.70 1023.68 L79.10 1023.68 Z" fill="#e9b612"/>
<path d="M82.00 1027.76 L84.90 1032.26 L83.30 1032.26 L83.30 1036.06 L80.70 1036.06 L80.70 1032.26 L79.10 1032.26 Z" fill="#5aa132"/>
<path d="M82.00 1036.34 L84.90 1040.84 L83.30 1040.84 L83.30 1044.64 L80.70 1044.64 L80.70 1040.84 L79.10 1040.84 Z" fill="#da840f"/>
<path d="M82.00 1044.92 L84.90 1049.42 L83.30 1049.42 L83.30 1053.22 L80.70 1053.22 L80.70 1049.42 L79.10 1049.42 Z" fill="#5ba3e0"/>
<path d="M124.00 1010.60 L126.90 1015.10 L125.30 1015.10 L125.30 1018.90 L122.70 1018.90 L122.70 1015.10 L121.10 1015.10 Z" fill="#5aa132"/>
<path d="M124.00 1019.18 L126.90 1023.68 L125.30 1023.68 L125.30 1027.48 L122.70 1027.48 L122.70 1023.68 L121.10 1023.68 Z" fill="#da840f"/>
<path d="M124.00 1027.76 L126.90 1032.26 L125.30 1032.26 L125.30 1036.06 L122.70 1036.06 L122.70 1032.26 L121.10 1032.26 Z" fill="#5ba3e0"/>
<path d="M164.90 1010.60 L167.80 1015.10 L166.20 1015.10 L166.20 1018.90 L163.60 1018.90 L163.60 1015.10 L162.00 1015.10 Z" fill="#da840f"/>
<path d="M164.90 1019.18 L167.80 1023.68 L166.20 1023.68 L166.20 1027.48 L163.60 1027.48 L163.60 1023.68 L162.00 1023.68 Z" fill="#5ba3e0"/>
<path d="M205.90 1010.60 L208.80 1015.10 L207.20 1015.10 L207.20 1018.90 L204.60 1018.90 L204.60 1015.10 L203.00 1015.10 Z" fill="#5ba3e0"/>
<path d="M245.60 1010.60 L248.50 1015.10 L246.90 1015.10 L246.90 1018.90 L244.30 1018.90 L244.30 1015.10 L242.70 1015.10 Z" fill="#5ba3e0"/>
<rect x="0.9" y="0.9" width="518.2" height="1062.2" fill="none" stroke="#000" stroke-width="1.8"/>
</svg>
</body></html>
